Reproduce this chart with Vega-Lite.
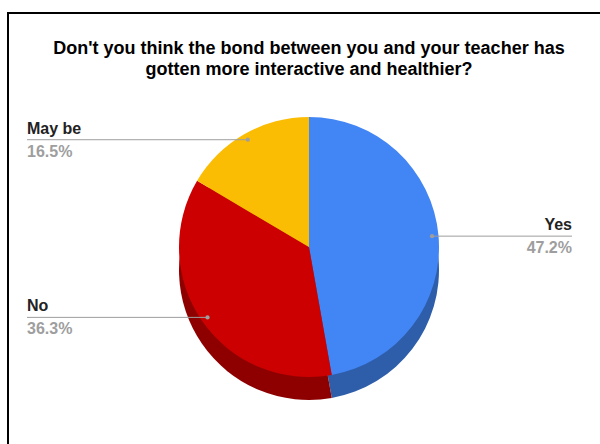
{
  "$schema": "https://vega.github.io/schema/vega-lite/v6.json",
  "width": 602,
  "height": 468,
  "autosize": {"type": "none"},
  "padding": {"left": 8, "top": 13, "right": 0, "bottom": 0},
  "background": "white",
  "config": {"view": {"stroke": "black", "strokeWidth": 2}, "font": "Liberation Sans"},
  "title": {
    "text": ["Don't you think the bond between you and your teacher has", "gotten more interactive and healthier?"],
    "fontSize": 18,
    "font": "Liberation Sans",
    "fontWeight": "bold",
    "color": "#000000",
    "offset": -66,
    "lineHeight": 21,
    "anchor": "middle"
  },
  "data": {
    "values": [
      {"answer": "Yes", "share": 0.472, "ord": 1},
      {"answer": "No", "share": 0.363, "ord": 2},
      {"answer": "May be", "share": 0.165, "ord": 3}
    ]
  },
  "transform": [
    {"window": [{"op": "sum", "field": "share", "as": "cum"}], "sort": [{"field": "ord"}], "frame": [null, 0]},
    {"calculate": "2*PI*(datum.cum - datum.share/2)", "as": "mid"},
    {"calculate": "sin(datum.mid)*0.95*130", "as": "dotx"},
    {"calculate": "cos(datum.mid)*0.95*130", "as": "doty"},
    {"calculate": "datum.dotx > 0 ? 263 : -282", "as": "labx"}
  ],
  "layer": [
    {
      "mark": {"type": "arc", "outerRadius": 130, "yOffset": 23},
      "encoding": {
        "theta": {"field": "share", "type": "quantitative", "stack": true},
        "order": {"field": "ord", "type": "quantitative"},
        "color": {"field": "answer", "type": "nominal", "legend": null,
          "scale": {"domain": ["Yes", "No", "May be"], "range": ["#2e5eaa", "#8e0000", "#b08500"]}}
      }
    },
    {
      "mark": {"type": "arc", "outerRadius": 130},
      "encoding": {
        "theta": {"field": "share", "type": "quantitative", "stack": true},
        "order": {"field": "ord", "type": "quantitative"},
        "color": {"field": "answer", "type": "nominal", "legend": null,
          "scale": {"domain": ["Yes", "No", "May be"], "range": ["#4285f4", "#cc0000", "#fbbc04"]}}
      }
    },
    {
      "mark": {"type": "rule", "color": "#9e9e9e", "strokeWidth": 1},
      "encoding": {
        "x": {"field": "dotx", "type": "quantitative", "scale": {"domain": [-301, 301]}, "axis": null},
        "x2": {"field": "labx"},
        "y": {"field": "doty", "type": "quantitative", "scale": {"domain": [-234, 234]}, "axis": null}
      }
    },
    {
      "mark": {"type": "point", "filled": true, "color": "#9e9e9e", "size": 18, "opacity": 1},
      "encoding": {
        "x": {"field": "dotx", "type": "quantitative", "scale": {"domain": [-301, 301]}, "axis": null},
        "y": {"field": "doty", "type": "quantitative", "scale": {"domain": [-234, 234]}, "axis": null}
      }
    },
    {
      "mark": {"type": "text", "fontSize": 16, "fontWeight": "bold", "color": "#222222", "dy": -6, "baseline": "alphabetic",
        "align": {"expr": "datum.labx > 0 ? 'right' : 'left'"}},
      "encoding": {
        "x": {"field": "labx", "type": "quantitative", "scale": {"domain": [-301, 301]}, "axis": null},
        "y": {"field": "doty", "type": "quantitative", "scale": {"domain": [-234, 234]}, "axis": null},
        "text": {"field": "answer", "type": "nominal"}
      }
    },
    {
      "mark": {"type": "text", "fontSize": 16, "fontWeight": "bold", "color": "#9e9e9e", "dy": 17, "baseline": "alphabetic",
        "align": {"expr": "datum.labx > 0 ? 'right' : 'left'"}},
      "encoding": {
        "x": {"field": "labx", "type": "quantitative", "scale": {"domain": [-301, 301]}, "axis": null},
        "y": {"field": "doty", "type": "quantitative", "scale": {"domain": [-234, 234]}, "axis": null},
        "text": {"field": "share", "type": "quantitative", "format": ".1%"}
      }
    }
  ],
  "resolve": {"scale": {"color": "independent"}}
}
